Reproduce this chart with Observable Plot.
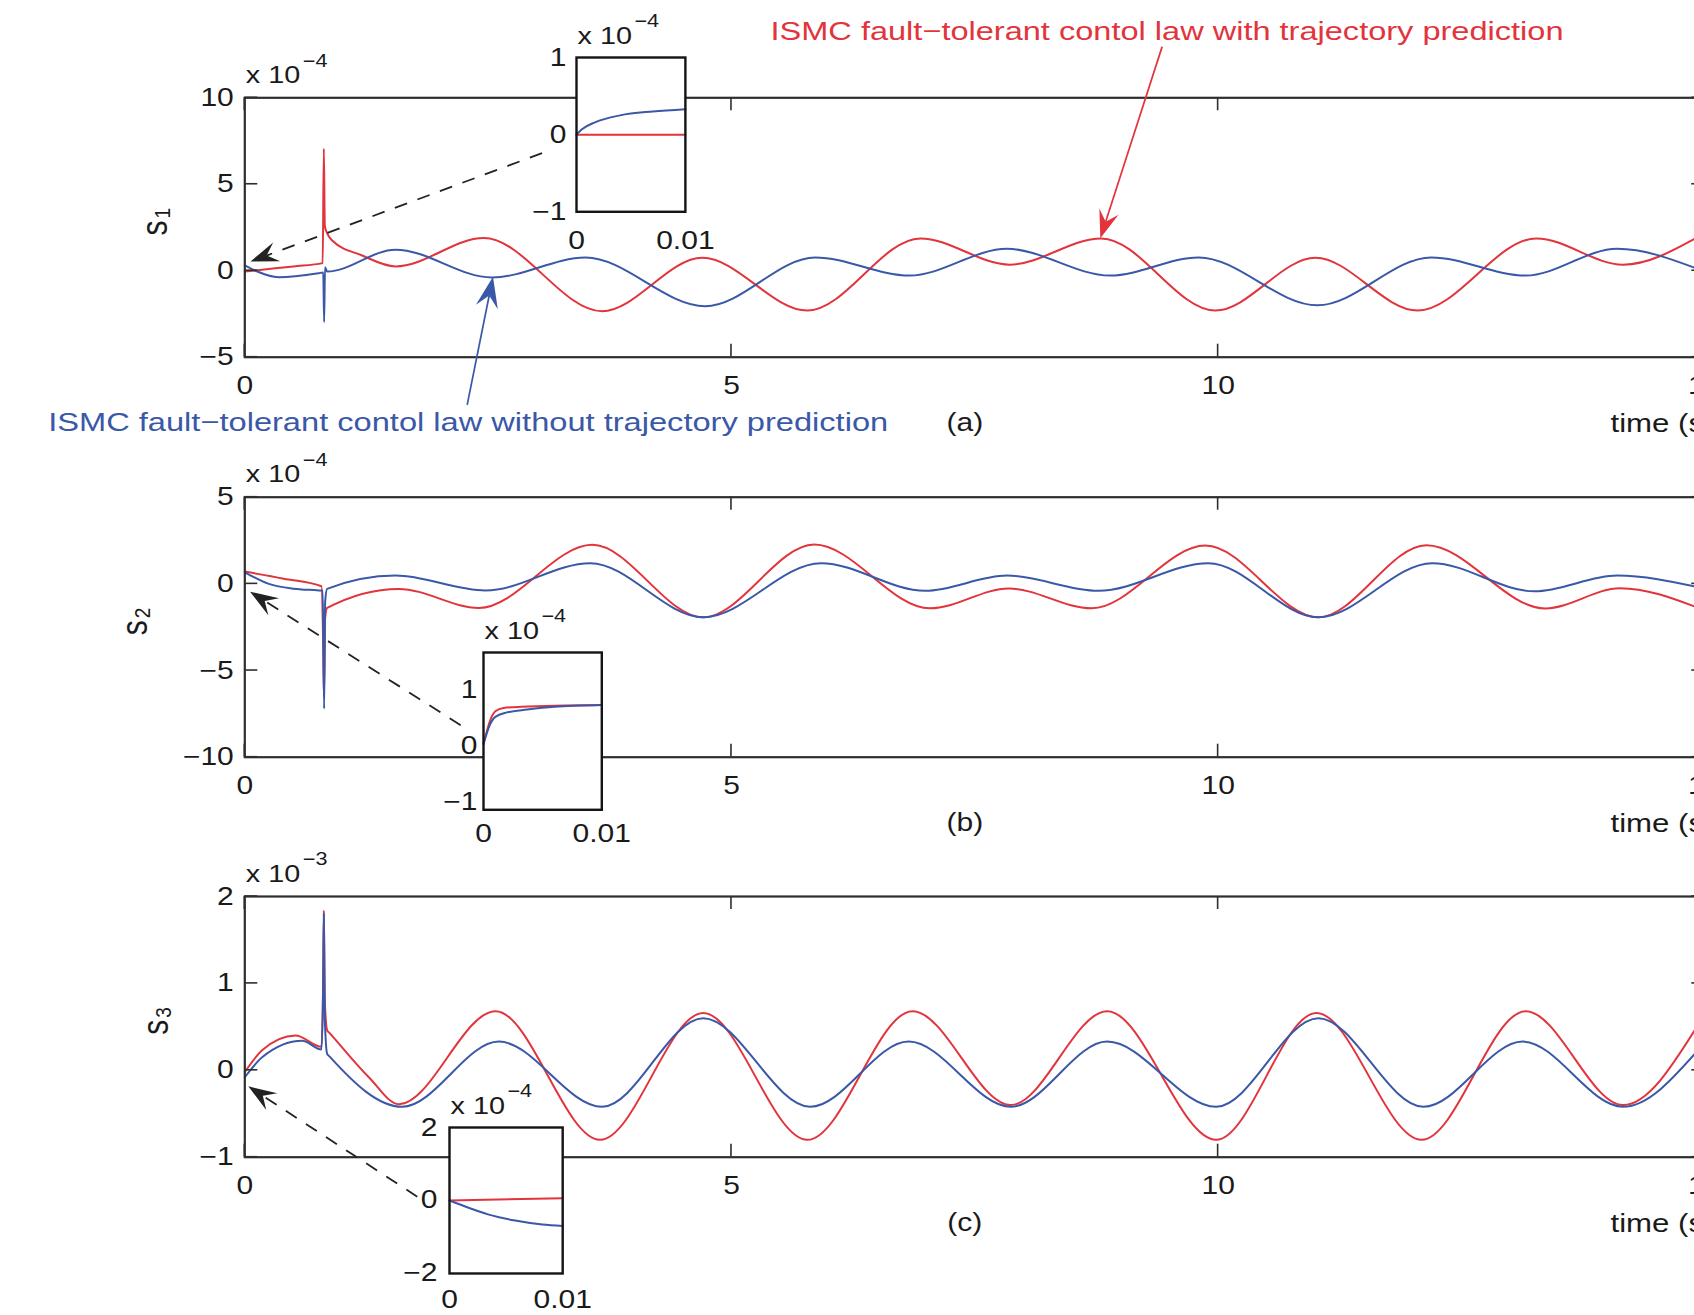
<!DOCTYPE html>
<html>
<head>
<meta charset="utf-8">
<script src="https://cdn.jsdelivr.net/npm/d3@7"></script>
<script src="https://cdn.jsdelivr.net/npm/@observablehq/plot@0.6"></script>
<style>
  html, body { margin: 0; padding: 0; background: #ffffff; overflow: hidden; }
  #fig { position: relative; width: 1694px; height: 1315px; overflow: hidden; background: #ffffff; }
  #fig svg { position: absolute; max-width: none; overflow: visible; background: transparent; }
</style>
</head>
<body>
<div id="fig"></div>
<script>
// ---------------- data ----------------
const timeTicks = [0, 5, 10, 15];
const s1Ticks = [-5, 0, 5, 10];
const s2Ticks = [-10, -5, 0, 5];
const s3Ticks = [-1, 0, 1, 2];
const insetXTicks = [0, 0.01];
const insetATicks = [-1, 0, 1];
const insetBTicks = [-1, 0, 1];
const insetCTicks = [-2, 0, 2];

const redLabel = "ISMC fault\u2212tolerant contol law with trajectory prediction";
const blueLabel = "ISMC fault\u2212tolerant contol law without trajectory prediction";
const panelTags = ["(a)", "(b)", "(c)"];
const axisNames = ["s", "s", "s"];
const axisSubs = ["1", "2", "3"];
const exponents = ["\u22124", "\u22124", "\u22123"];
const xLabel = "time (sec)";

// s1 (x 1e-4) : [time, value]
const s1Red = [[0,-0.05],[0.11,0.02],[0.5,0.25],[0.80,0.44],[0.812,7.06],[0.822,2.6],[0.846,2.17],[0.898,1.75],[1.206,0.88],[1.548,0.25],[2.456,1.89],[3.67,-2.34],[4.70,0.75],[5.78,-2.3],[6.94,1.87],[7.86,0.35],[8.80,1.87],[9.97,-2.3],[11.0,0.75],[12.05,-2.3],[13.27,1.87],[14.16,0.35],[14.93,1.95]];
const s1Blue = [[0,0.31],[0.11,0.0],[0.35,-0.37],[0.76,-0.14],[0.806,-0.1],[0.815,-2.97],[0.824,0.2],[0.846,-0.05],[1.548,1.22],[2.54,-0.39],[3.5,0.76],[4.73,-2.05],[5.86,0.77],[6.83,-0.28],[7.83,1.27],[8.89,-0.28],[9.8,0.77],[11.02,-2.0],[12.19,0.77],[13.16,-0.28],[14.1,1.27],[14.93,0.1]];

// s2 (x 1e-4)
const s2Red = [[0,0.71],[0.4,0.3],[0.788,-0.14],[0.805,-3.5],[0.813,-6.54],[0.825,-2.0],[0.846,-1.39],[1.583,-0.29],[2.405,-1.39],[3.57,2.25],[4.71,-1.93],[5.85,2.27],[7.04,-1.41],[7.85,-0.27],[8.70,-1.41],[9.87,2.21],[11.03,-1.93],[12.14,2.23],[13.36,-1.42],[14.13,-0.25],[14.93,-1.38]];
const s2Blue = [[0,0.67],[0.247,0.0],[0.5,-0.28],[0.76,-0.38],[0.80,-0.4],[0.815,-7.2],[0.826,-1.0],[0.846,-0.29],[1.548,0.48],[2.473,-0.38],[3.55,1.19],[4.71,-1.93],[5.92,1.19],[6.99,-0.40],[7.83,0.48],[8.77,-0.40],[9.90,1.19],[11.03,-1.93],[12.20,1.19],[13.25,-0.43],[14.10,0.48],[14.93,-0.19]];

// s3 (x 1e-3)
const s3Red = [[0,-0.02],[0.178,0.23],[0.521,0.40],[0.788,0.27],[0.805,1.0],[0.812,1.84],[0.822,0.8],[0.846,0.46],[0.87,0.43],[1.274,-0.08],[1.583,-0.39],[2.576,0.68],[3.65,-0.80],[4.71,0.66],[5.78,-0.80],[6.86,0.68],[7.87,-0.40],[8.86,0.68],[9.98,-0.80],[11.01,0.66],[12.09,-0.80],[13.16,0.68],[14.16,-0.40],[14.93,0.52]];
const s3Blue = [[0,-0.08],[0.178,0.15],[0.59,0.34],[0.788,0.24],[0.805,1.0],[0.812,1.80],[0.822,0.6],[0.846,0.19],[0.87,0.16],[1.617,-0.42],[2.61,0.33],[3.67,-0.42],[4.71,0.60],[5.81,-0.42],[6.82,0.33],[7.87,-0.42],[8.86,0.33],[9.98,-0.42],[11.03,0.60],[12.11,-0.42],[13.13,0.33],[14.16,-0.42],[14.93,0.23]];

// insets (x 1e-4), time 0 .. 0.01
const insetARed = [[0,0],[0.01,0]];
const insetABlue = [[0,0],[0.0005,0.07],[0.0017,0.16],[0.004,0.25],[0.007,0.30],[0.01,0.33]];
const insetBRed = [[0,0.06],[0.0002,0.2],[0.0005,0.42],[0.001,0.62],[0.0017,0.68],[0.0032,0.70],[0.01,0.73]];
const insetBBlue = [[0,0.03],[0.0005,0.36],[0.001,0.52],[0.002,0.60],[0.0037,0.65],[0.006,0.70],[0.01,0.73]];
const insetCRed = [[0,0],[0.01,0.06]];
const insetCBlue = [[0,0],[0.0015,-0.18],[0.0034,-0.38],[0.0058,-0.55],[0.0082,-0.66],[0.01,-0.70]];

// annotation arrows, in each panel's data units: [t0, v0, t1, v1]
const arrowsA = [[2.29,-7.79,2.555,-0.37],[9.43,12.93,8.795,1.85]];
const dashedA = [3.059,6.77,0.063,0.50];
const dashedB = [2.223,-8.18,0.059,-0.48];
const dashedC = [1.777,-1.46,0.041,-0.19];

// ---------------- styling ----------------
const RED = "#e2343c", BLUE = "#3a58a8", AXIS = "#2e2e2e", INK = "#1a1a1a";
const FONT = "'Liberation Sans', Arial, Helvetica, sans-serif";
const W = 1760, FRAME_L = 244.3, FRAME_R = 1704.3;
const SX = 1.2; // horizontal stretch of the reference lettering
const TICK_FS = 25;
const fig = document.getElementById("fig");
const fmt = d => (d < 0 ? "\u2212" + Math.abs(d) : String(d));
const rows = pairs => pairs.map(([t, v]) => ({t, v}));

function innerTicks(xs, ys, len) {
  return (index, scales, values, dims) => {
    const L = dims.marginLeft, R = dims.width - dims.marginRight;
    const T = dims.marginTop, B = dims.height - dims.marginBottom;
    const g = d3.create("svg:g").attr("stroke", AXIS).attr("stroke-width", 1.6);
    for (const t of xs) {
      const x = scales.x(t);
      g.append("line").attr("x1", x).attr("x2", x).attr("y1", B).attr("y2", B - len);
      g.append("line").attr("x1", x).attr("x2", x).attr("y1", T).attr("y2", T + len);
    }
    for (const v of ys) {
      const y = scales.y(v);
      g.append("line").attr("x1", L).attr("x2", L + len).attr("y1", y).attr("y2", y);
      g.append("line").attr("x1", R).attr("x2", R - len).attr("y1", y).attr("y2", y);
    }
    return g.node();
  };
}

function arrowMark(a, color, width, head, dash) {
  return (index, scales) => {
    const x0 = scales.x(a[0]), y0 = scales.y(a[1]), x1 = scales.x(a[2]), y1 = scales.y(a[3]);
    const dx = x1 - x0, dy = y1 - y0, len = Math.hypot(dx, dy);
    const ux = dx / len, uy = dy / len, px = -uy, py = ux;
    const hw = head * 0.36;
    const bx = x1 - ux * head, by = y1 - uy * head;
    const nx = x1 - ux * head * 0.62, ny = y1 - uy * head * 0.62;
    const g = d3.create("svg:g");
    g.append("line").attr("x1", x0).attr("y1", y0).attr("x2", nx).attr("y2", ny)
      .attr("stroke", color).attr("stroke-width", width).attr("stroke-dasharray", dash || null);
    g.append("path").attr("fill", color)
      .attr("d", `M${x1},${y1}L${bx + px * hw},${by + py * hw}L${nx},${ny}L${bx - px * hw},${by - py * hw}Z`);
    return g.node();
  };
}

function stretch(svg) {
  svg.querySelectorAll("text").forEach(el => {
    const txt = el.textContent;
    if (txt.startsWith("ISMC")) {
      el.setAttribute("textLength", txt === redLabel ? 793 : 840);
      el.setAttribute("lengthAdjust", "spacingAndGlyphs");
      return;
    }
    const tr = el.getAttribute("transform");
    if (tr) {
      if (tr.includes("rotate")) el.setAttribute("transform", tr.replace("rotate", `scale(${SX},1) rotate`));
      else el.setAttribute("transform", tr + ` scale(${SX},1)`);
    } else {
      const x = +el.getAttribute("x") || 0, y = +el.getAttribute("y") || 0;
      el.setAttribute("transform", `translate(${x},${y}) scale(${SX},1) translate(${-x},${-y})`);
    }
  });
}

function place(el, left, top) {
  el.style.position = "absolute";
  el.style.left = left + "px";
  el.style.top = top + "px";
  el.style.maxWidth = "none";
  el.style.overflow = "visible";
  el.style.background = "transparent";
  el.style.font = `${TICK_FS}px ${FONT}`;
  el.style.color = INK;
  fig.appendChild(el);
  stretch(el);
}

const label = (txt, o) => Plot.text([txt], {lineAnchor: "middle", ...o});

function mainPanel(p) {
  const el = Plot.plot({
    width: W, height: p.height,
    marginLeft: FRAME_L, marginRight: W - FRAME_R, marginTop: p.mT, marginBottom: p.mB,
    x: {domain: [0, 15], label: null},
    y: {domain: p.yDomain, label: null},
    marks: [
      Plot.line(rows(p.red), {x: "t", y: "v", stroke: RED, strokeWidth: 2, curve: "monotone-x"}),
      Plot.line(rows(p.blue), {x: "t", y: "v", stroke: BLUE, strokeWidth: 2, curve: "monotone-x"}),
      Plot.frame({stroke: AXIS, strokeWidth: 2.2}),
      innerTicks(timeTicks, p.yTicks, 13),
      Plot.axisX(timeTicks, {anchor: "bottom", tickSize: 0, tickPadding: 19, tickFormat: fmt, fontSize: TICK_FS}),
      Plot.axisY(p.yTicks, {anchor: "left", tickSize: 0, tickPadding: 11, tickFormat: fmt, fontSize: TICK_FS}),
      label("x 10", {frameAnchor: "top-left", textAnchor: "start", dx: 1, dy: -22.6, fontSize: 24}),
      label(p.exp, {frameAnchor: "top-left", textAnchor: "start", dx: 58, dy: -37, fontSize: 18}),
      label(p.name, {frameAnchor: "left", rotate: -90, dx: p.labelDx, dy: 8, fontSize: 30}),
      label(p.sub, {frameAnchor: "left", rotate: -90, dx: p.labelDx + 7, dy: -9, fontSize: 19}),
      label(p.tag, {frameAnchor: "bottom", dx: -10, dy: 66, fontSize: TICK_FS}),
      label(xLabel, {frameAnchor: "bottom-right", textAnchor: "start", dx: 1610 - FRAME_R, dy: 66, fontSize: 26}),
      ...p.extra
    ]
  });
  place(el, 0, p.top);
}

function insetPanel(q) {
  const mL = 60, mR = 40, mT = 50, mB = 50;
  const el = Plot.plot({
    width: q.w + mL + mR, height: q.h + mT + mB,
    marginLeft: mL, marginRight: mR, marginTop: mT, marginBottom: mB,
    x: {domain: [0, 0.01], label: null},
    y: {domain: q.yDomain, label: null},
    marks: [
      Plot.frame({fill: "white", stroke: "none"}),
      Plot.line(rows(q.red), {x: "t", y: "v", stroke: RED, strokeWidth: 2, curve: "monotone-x"}),
      Plot.line(rows(q.blue), {x: "t", y: "v", stroke: BLUE, strokeWidth: 2, curve: "monotone-x"}),
      Plot.frame({stroke: "#141414", strokeWidth: 2.4}),
      Plot.axisX(insetXTicks, {anchor: "bottom", tickSize: 0, tickPadding: q.xPad, tickFormat: fmt, fontSize: TICK_FS}),
      Plot.axisY(q.yTicks, {anchor: "left", tickSize: 0, tickPadding: q.yPad, tickFormat: fmt, fontSize: TICK_FS}),
      label("x 10", {frameAnchor: "top-left", textAnchor: "start", dx: 1, dy: -21.5, fontSize: 24}),
      label("\u22124", {frameAnchor: "top-left", textAnchor: "start", dx: 58, dy: -36, fontSize: 18})
    ]
  });
  place(el, q.left - mL, q.top - mT);
}

// ---------------- panels ----------------
mainPanel({
  top: 0, height: 440, mT: 97.3, mB: 83.3, yDomain: [-5, 10], yTicks: s1Ticks,
  red: s1Red, blue: s1Blue, exp: exponents[0], name: axisNames[0], sub: axisSubs[0], tag: panelTags[0], labelDx: -89,
  extra: [
    arrowMark(dashedA, "#222", 1.8, 28, "13,11"),
    arrowMark(arrowsA[0], BLUE, 1.7, 31),
    arrowMark(arrowsA[1], RED, 1.7, 28),
    label(redLabel, {frameAnchor: "top-left", textAnchor: "start", dx: 770 - FRAME_L, dy: 30.7 - 97.3, fill: RED, fontSize: 26}),
    label(blueLabel, {frameAnchor: "top-left", textAnchor: "start", dx: 47.7 - FRAME_L, dy: 421.7 - 97.3, fill: BLUE, fontSize: 26})
  ]
});
mainPanel({
  top: 440, height: 420, mT: 56.7, mB: 103.3, yDomain: [-10, 5], yTicks: s2Ticks,
  red: s2Red, blue: s2Blue, exp: exponents[1], name: axisNames[1], sub: axisSubs[1], tag: panelTags[1], labelDx: -109,
  extra: [arrowMark(dashedB, "#222", 1.8, 28, "13,11")]
});
mainPanel({
  top: 860, height: 455, mT: 36, mB: 158.3, yDomain: [-1, 2], yTicks: s3Ticks,
  red: s3Red, blue: s3Blue, exp: exponents[2], name: axisNames[2], sub: axisSubs[2], tag: panelTags[2], labelDx: -88,
  extra: [arrowMark(dashedC, "#222", 1.8, 28, "13,11")]
});

insetPanel({left: 575.6, top: 56.7, w: 108.9, h: 154.3, yDomain: [-1, 1], yTicks: insetATicks, red: insetARed, blue: insetABlue, xPad: 19, yPad: 10});
insetPanel({left: 482.7, top: 651.7, w: 118.3, h: 157.3, yDomain: [-1.14, 1.67], yTicks: insetBTicks, red: insetBRed, blue: insetBBlue, xPad: 14, yPad: 6});
insetPanel({left: 448.8, top: 1127.3, w: 113.2, h: 146, yDomain: [-2, 2], yTicks: insetCTicks, red: insetCRed, blue: insetCBlue, xPad: 17, yPad: 12});
</script>
</body>
</html>
